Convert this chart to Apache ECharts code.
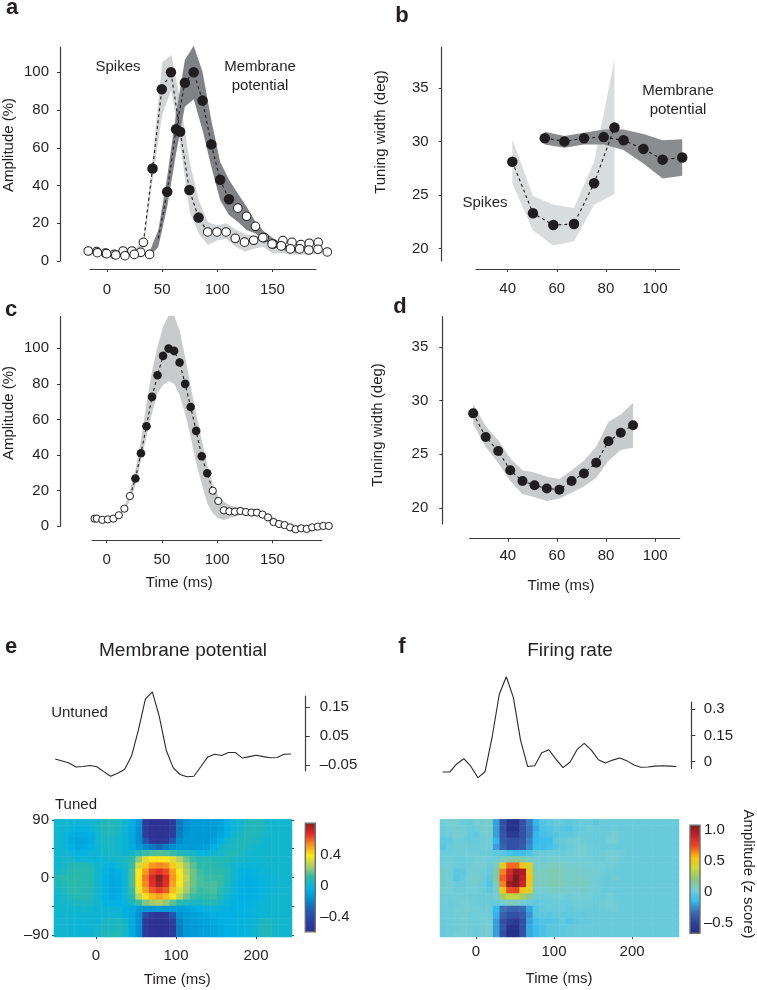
<!DOCTYPE html>
<html>
<head>
<meta charset="utf-8">
<style>html,body{margin:0;padding:0;background:#fff}#c{width:757px;height:990px}</style>
<script src="https://cdn.jsdelivr.net/npm/echarts@6/dist/echarts.min.js"></script>
</head>
<body>
<div id="c"></div>
<script>
// ---- panel a
const aSpikeT=[-17,-8.7,-0.3,8,16.3,24.7,33,41.3,49.7,58,66.3,74.7,83,91.3,99.7,108,116.3,124.7,133,141.3,149.7,158,166.3,174.7,183,191.3,199.7];
const aSpikeV=[5.3,4.4,3.9,3.2,2.8,3.5,9.9,49,91,100,68.5,37.6,23,15.4,15.4,15.4,12,10,11,12.4,9,8,6.4,6.4,5.8,6.2,4.8];
const aVmT=[-9.4,-1.4,6.6,14.6,22.6,30.6,38.6,46.6,54.6,62.6,70.6,78.6,86.6,94.6,102.6,110.6,118.6,126.6,134.6,142.6,150.6,159.5,167.7,175.8,183.4,191.5];
const aVmV=[5,4.2,3.5,5.3,5.3,4.6,3.5,12,36.7,69.8,94.5,100,85,61.8,43,32.7,28,23.7,18.4,12.4,9,10.8,9.9,8.7,9.4,9.9];
const aSpikeBandT=[25,33.3,41.6,50,58.3,66.6,75,83.3,91.6,100,108.3,116.6,125,133.3,141.6,150,158.3,166.6,175,183.3,191.6];
const aSpikeBandHi=[5.8,12,55,105.3,109.2,85,52,32,20.5,19,20,16.5,14.5,13,14,11,9,7.5,7.5,7,7];
const aSpikeBandLo=[3,7,44,77.4,90.6,61,26,14.5,8.5,11,11.7,7.5,5,6.5,7.5,4,4.3,3.3,3.3,3.5,4];
const aVmBandT=[38.6,46.6,54.6,62.6,70.6,78.6,86.6,94.6,102.6,110.6,118.6,126.6,134.6,142.6,150.6,158.6,166.6,174.6];
const aVmBandHi=[5,16.4,44.7,78,106.5,114,100.3,74.6,52.6,43,35.8,28.8,20.8,15.5,12,9.4,7.6,6.7];
const aVmBandLo=[2.3,7.6,28.8,57,81.8,85.7,69.4,50,32.3,24.4,20.8,16.4,14.6,11,7.6,5.8,5,4];
// ---- panel b
const bSpikeT=[41.9,50.3,58.6,67,75.2,83.5];
const bSpikeV=[28.1,23.3,22.2,22.3,26.1,31.3];
const bSpikeHi=[30.2,24.9,24.1,23.8,28.1,37.6];
const bSpikeLo=[26.1,21.7,20.3,20.7,24.1,25.1];
const bVmT=[55.1,63.1,71.1,79.1,87.2,95.3,103.1,111.1];
const bVmV=[30.3,30,30.3,30.4,30.1,29.3,28.3,28.5];
const bVmHi=[30.9,30.5,30.8,31.1,31.1,30.7,30.1,30.2];
const bVmLo=[29.7,29.4,29.7,29.7,29.2,27.95,26.55,26.8];
// ---- panel c
const cT=[-11,-9,-4,1,6,11,16,21,26,31,36,41,46,51,56,61,66,71,76,81,86,91,96,101,106,111,116,121,126,131,136,141,146,151,156,161,166,171,176,181,186,191,196,201];
const cV=[4.3,4.3,3.6,3.9,4.3,6.2,9.9,17,26.8,41,56.2,72.7,84.8,95.7,99.8,98.5,92,80,67,53.6,39.3,29.8,20,14.2,9,8.4,8.2,8.6,8,7.7,7.7,6.6,5,2.4,1.3,0.7,-0.6,-1.7,-1.1,-1.5,-0.6,-0.2,0.2,0.2];
const cBandT=[16,21,26,31,36,41,46,51,56,61,66,71,76,81,86,91,96,101,106,111,116,121,126,136,146,156,166,176,186,196];
const cBandHi=[11,20,31.6,48.5,69,87,101,112,118.3,118.3,110,95,78.5,63.5,48.5,34.5,24,17,13.9,12,11,10.8,10,9.5,7,3,1,0.6,0.8,1.2];
const cBandLo=[9,14,23,37,50,63.5,74.7,79.4,81.6,80,73.8,63.5,50.4,35.4,24,13,7.3,4.5,3.6,4.5,5.4,6.4,6.3,6,3.3,-0.4,-2.2,-2.8,-2,-0.8];
// ---- panel d
const dT=[25.9,31,36.1,41,46,50.9,55.9,61,66,71,76,81,86,91];
const dV=[28.8,26.6,25.3,23.5,22.5,22.1,21.8,21.7,22.5,23.2,24.2,26.2,27,27.7];
const dHi=[29.7,27.6,26.3,24.6,23.5,23.3,22.9,22.7,23.5,24.4,25.7,28,28.7,29.8];
const dLo=[27.8,25.7,24.2,22.5,21.3,21,20.65,20.87,21.4,22,22.8,24.4,25.4,25.6];
// ---- panel e
const eLineT=[-51,-42.3,-33.7,-25,-16.3,-7.6,1,9.7,18.4,27,35.7,44.4,53,61.7,70.4,79,87.7,96.4,105,113.7,122.4,131,139.7,148.4,157,165.7,174.4,183,191.7,200.4,209,217.7,226.4,235,243.7];
const eLineV=[-0.029,-0.036,-0.043,-0.057,-0.055,-0.052,-0.056,-0.073,-0.089,-0.079,-0.066,-0.019,0.071,0.178,0.203,0.119,0.002,-0.059,-0.083,-0.091,-0.089,-0.056,-0.022,-0.013,-0.017,-0.007,-0.007,-0.026,-0.021,-0.016,-0.021,-0.025,-0.024,-0.013,-0.012];
const eCells=[ // hundredths of z score, top row first
[2,2,1,0,0,1,3,7,8,6,1,-5,-14,-48,-58,-58,-58,-48,-24,-16,-12,-12,-12,-12,-10,-5,0,2,6,7,7,3,2,2,2],
[2,1,0,-2,-2,0,3,7,8,5,1,-6,-15,-50,-58,-58,-58,-50,-24,-16,-13,-13,-13,-12,-10,-5,0,3,7,8,7,3,2,2,2],
[2,0,-4,-6,-6,-4,2,6,7,3,0,-7,-16,-46,-58,-60,-58,-46,-22,-15,-13,-14,-14,-12,-8,-3,2,5,7,7,5,3,2,2,2],
[2,0,-6,-8,-8,-5,2,5,5,2,0,-7,-16,-36,-52,-55,-52,-34,-18,-14,-13,-14,-14,-10,-4,2,5,7,7,5,3,2,2,2,2],
[2,1,-4,-7,-6,-3,1,4,5,2,0,-6,-12,-18,-24,-28,-22,-16,-12,-12,-12,-12,-10,-5,2,5,6,7,5,3,2,2,2,2,2],
[2,2,0,-2,-2,0,1,3,4,3,1,3,8,12,14,15,14,12,8,6,3,-2,-2,1,3,6,8,6,3,2,2,2,2,2,2],
[2,3,3,1,0,0,0,1,2,4,5,10,22,34,38,40,38,34,26,18,12,9,9,8,8,8,5,3,2,2,2,2,2,2,2],
[2,4,7,8,8,6,2,0,-3,0,3,12,32,44,52,54,52,44,34,24,16,11,10,10,9,6,2,0,0,0,1,2,2,2,2],
[3,6,9,10,10,8,2,-2,-6,-4,1,14,38,52,63,66,62,50,38,26,18,13,11,11,11,8,2,-2,-3,-2,0,1,2,2,2],
[8,10,10,11,10,8,2,-3,-7,-5,1,14,40,56,68,80,68,52,40,28,18,14,12,12,12,8,2,-3,-4,-3,-1,0,1,2,2],
[6,8,10,10,10,8,2,-4,-7,-6,0,14,40,54,66,76,66,50,38,26,18,14,13,14,12,6,1,-4,-5,-4,-2,0,1,2,2],
[3,6,9,10,9,7,2,-4,-7,-6,0,12,36,50,60,64,60,46,34,24,16,12,13,14,10,4,0,-4,-5,-4,-2,0,1,2,2],
[2,4,7,9,9,7,2,-3,-6,-5,0,10,28,40,46,50,46,38,28,18,12,10,11,12,8,2,-1,-4,-4,-3,-1,1,2,2,2],
[2,3,4,6,6,5,2,-1,-3,-3,-1,5,12,20,24,26,22,16,10,7,5,5,7,8,4,0,-2,-3,-3,-2,0,1,2,2,2],
[2,2,2,2,3,2,1,0,0,0,-3,-6,-12,-14,-14,-12,-14,-12,-10,-9,-6,-3,-1,0,-1,-2,-3,-3,-2,-1,0,1,2,2,2],
[2,2,1,1,1,1,1,1,2,1,-2,-7,-16,-40,-52,-54,-52,-36,-16,-12,-10,-9,-7,-5,-4,-3,-3,-2,-2,-1,0,1,2,2,2],
[2,2,1,0,0,1,1,4,5,6,3,-6,-16,-48,-58,-58,-58,-46,-20,-13,-11,-10,-9,-7,-5,-4,-3,-2,-1,0,5,6,3,2,2],
[2,2,1,0,0,1,3,5,4,7,4,-6,-16,-50,-58,-60,-58,-50,-22,-14,-12,-11,-10,-8,-6,-4,-3,-2,-1,1,6,7,3,2,2],
[2,2,1,1,1,1,3,7,6,8,3,-6,-16,-50,-58,-60,-58,-50,-22,-14,-12,-11,-10,-8,-6,-4,-3,-2,-1,1,6,7,3,2,2]
];
// ---- panel f
const fLineT=[-42.7,-33.6,-24.6,-15.5,-6.4,2.6,11.7,20.8,29.9,38.9,48,57.1,66.1,75.2,84.3,93.4,102.4,111.5,120.6,129.6,138.7,147.8,156.8,165.9,175,184.1,193.1,202.2,211.3,220.3,229.4,238.5,247.5,256.6];
const fLineV=[-0.059,-0.059,-0.013,0.017,-0.027,-0.091,-0.057,0.142,0.384,0.484,0.365,0.123,-0.027,-0.023,0.051,0.068,0.015,-0.034,-0.002,0.07,0.104,0.066,0.011,-0.008,0.009,0.021,0.006,-0.019,-0.032,-0.03,-0.025,-0.023,-0.025,-0.027];
const fCells=[
[2,4,4,1,0,3,5,5,-20,-42,-60,-62,-42,-28,-15,-6,-2,-1,-1,-3,-1,0,0,-3,0,0,0,0,0,0,0,0,0,0,0,0],
[1,3,5,3,0,1,5,6,-20,-42,-62,-62,-42,-30,-18,-8,-6,-2,-4,-6,-2,0,2,0,0,0,1,0,0,0,0,0,0,0,0,0],
[0,2,4,3,0,-2,3,5,-20,-40,-55,-55,-42,-30,-15,-10,-8,-4,-2,-2,0,1,1,0,1,2,4,1,0,0,0,0,0,0,0,0],
[-3,-1,2,1,0,0,2,3,-15,-38,-42,-42,-40,-26,-14,-12,-12,-2,0,2,3,2,1,0,0,3,4,1,0,0,0,0,0,0,0,0],
[-4,0,2,2,1,1,2,2,-20,-35,-42,-42,-38,-24,-12,-12,-10,-5,-1,1,3,4,2,1,0,0,0,0,0,0,0,0,0,0,0,0],
[0,1,2,2,2,2,1,0,-2,-5,-10,-12,-12,-6,-1,0,1,1,0,2,4,4,2,1,2,3,3,2,0,0,0,0,0,0,0,0],
[2,2,1,1,2,3,3,2,2,8,12,14,12,6,3,2,4,4,3,3,3,3,3,2,2,3,4,1,0,0,0,0,0,0,0,0],
[3,3,1,0,2,4,4,1,8,45,68,68,50,45,5,5,7,8,7,5,5,4,4,3,3,2,1,0,0,0,0,0,0,0,0,0],
[5,3,-3,-2,3,5,2,-1,12,65,85,100,95,50,8,7,10,10,8,6,6,5,5,4,2,1,0,0,0,0,0,0,0,0,0,0],
[6,3,-4,-1,4,6,2,-3,14,70,90,108,92,55,10,8,10,10,8,6,7,7,5,3,1,0,2,0,0,0,0,0,0,0,0,0],
[5,3,1,1,3,4,0,-7,10,65,100,105,88,50,8,7,10,10,9,6,7,8,5,3,1,0,0,0,0,0,0,0,0,0,0,0],
[4,3,2,2,3,3,1,-2,6,50,72,75,52,45,5,4,6,6,5,4,4,5,4,2,0,0,0,0,0,0,0,0,0,0,0,0],
[2,2,2,2,2,2,1,1,3,28,35,35,28,15,2,2,2,3,3,2,3,4,3,1,1,3,1,0,0,0,0,0,0,0,0,0],
[2,1,2,3,3,2,1,0,0,3,8,8,3,0,-2,0,1,1,0,0,2,2,2,1,2,3,2,0,0,0,0,0,0,0,0,0],
[1,1,3,4,4,3,2,2,-14,-30,-34,-34,-32,-18,-5,-1,0,0,0,-1,1,1,1,0,1,2,2,0,0,0,0,0,0,0,0,0],
[1,1,3,4,2,2,3,2,-16,-36,-42,-42,-38,-22,-5,-3,-4,-2,-2,-2,-1,-1,0,0,0,0,0,0,0,0,0,0,0,0,0,0],
[0,1,2,4,2,1,4,3,-20,-42,-50,-55,-42,-20,-10,-6,-6,-4,-2,-5,-2,-1,-1,0,0,0,0,0,0,0,0,0,0,0,0,0],
[0,1,2,3,2,1,5,4,-20,-40,-62,-62,-42,-18,-12,-8,-4,-3,-2,-1,0,0,0,0,0,0,0,0,0,0,0,0,0,0,0,0],
[0,1,3,3,2,1,5,4,-20,-42,-64,-64,-42,-18,-12,-8,-4,-3,-2,-1,0,0,0,0,0,0,0,0,0,0,0,0,0,0,0,0]
];
const eColors=['#2e3192','#2d3f9d','#1f5fb0','#008ed0','#02b2e4','#2cb9aa','#a9cc6c','#fbe91a','#f59120','#e2282b','#7d2520'];
const fColors=['#252e88','#2e4199','#3a6cb5','#35bcee','#74cdd5','#8fc67c','#c8d838','#fdc010','#f04a24','#c5202a','#7c1d1d'];

const INK='#231f20', AXIS='#3c3a3a', FONT='"Liberation Sans", Arial, sans-serif', LBL=15;
const opt={animation:false,backgroundColor:'#fff',textStyle:{fontFamily:FONT},grid:[],xAxis:[],yAxis:[],series:[],visualMap:[],graphic:[]};
const txt=(s,x,y,o={})=>opt.graphic.push({type:'text',x,y,rotation:o.rot||0,z:50,style:{text:s,fill:INK,font:(o.bold?'bold ':'')+(o.size||LBL)+'px '+FONT,align:o.align||'center',verticalAlign:'middle'}});
const axLine=(show=true)=>({show,onZero:false,lineStyle:{color:AXIS,width:1.2}});
const tick=(vals,len=3)=>({show:true,length:len,customValues:vals,lineStyle:{color:AXIS,width:1}});
const lab=(vals,labels,margin,extra={})=>({show:true,customValues:vals,margin,color:INK,fontSize:LBL,fontFamily:FONT,hideOverlap:false,
  formatter:v=>{const i=vals.findIndex(t=>Math.abs(t-v)<1e-9);return labels?labels[i]:String(v);},...extra});
function cart(g,x,y){ // x,y axis specs
  const gi=opt.grid.length; opt.grid.push({containLabel:false,...g});
  const xi=opt.xAxis.length, yi=opt.yAxis.length;
  opt.xAxis.push({gridIndex:gi,type:'value',splitLine:{show:false},...x});
  opt.yAxis.push({gridIndex:gi,type:'value',splitLine:{show:false},...y});
  return {gi,xi,yi};
}
function band(c,T,Lo,Hi,color,z=1){
  opt.series.push({type:'custom',xAxisIndex:c.xi,yAxisIndex:c.yi,z,silent:true,clip:false,
    data:T.map((t,i)=>[t,Lo[i],Hi[i]]),encode:{x:0,y:[1,2]},
    renderItem(p,api){
      if(p.dataIndex!==0) return null;
      const pts=[];
      T.forEach((t,i)=>pts.push(api.coord([t,Hi[i]])));
      for(let i=T.length-1;i>=0;i--) pts.push(api.coord([T[i],Lo[i]]));
      return {type:'polygon',shape:{points:pts},style:{fill:color}};
    }});
}
const zip=(T,V,a=0,b=T.length-1)=>T.slice(a,b+1).map((t,i)=>[t,V[i+a]]);
function dash(c,d,z=3){opt.series.push({type:'line',xAxisIndex:c.xi,yAxisIndex:c.yi,data:d,symbol:'none',clip:false,z,silent:true,lineStyle:{color:'#1f1d1e',width:1.1,type:[3,3]}});}
function dots(c,d,size,open,z=5){opt.series.push({type:'scatter',xAxisIndex:c.xi,yAxisIndex:c.yi,data:d,symbolSize:size,clip:false,z,silent:true,
  itemStyle:open?{color:'#fff',borderColor:'#1f1d1e',borderWidth:1,opacity:1}:{color:'#1f1d1e',borderWidth:0,opacity:1}});}
function curve(c,T,V){opt.series.push({type:'line',xAxisIndex:c.xi,yAxisIndex:c.yi,data:zip(T,V),symbol:'none',clip:false,silent:true,lineStyle:{color:'#2a2829',width:1.1}});}

// a
const ca=cart({left:90,top:47,width:226,height:214},
 {min:-15.4,max:189.5,offset:8,axisLine:axLine(),axisTick:tick([0,50,100,150]),axisLabel:lab([0,50,100,150],null,13)},
 {min:0,max:113.4,offset:30,axisLine:axLine(),axisTick:tick([0,20,40,60,80,100]),axisLabel:lab([0,20,40,60,80,100],null,11)});
band(ca,aSpikeBandT,aSpikeBandLo,aSpikeBandHi,'#d1d3d4',1);
band(ca,aVmBandT,aVmBandLo,aVmBandHi,'#808285',2);
dash(ca,zip(aSpikeT,aSpikeV,6,13));dash(ca,zip(aVmT,aVmV,7,16));
dots(ca,[...zip(aVmT,aVmV,0,6),...zip(aVmT,aVmV,16,25)],8.6,true,4);
dots(ca,zip(aVmT,aVmV,8,15),10.5,false,5);
dots(ca,[...zip(aSpikeT,aSpikeV,0,6),...zip(aSpikeT,aSpikeV,13,26)],8.6,true,6);
dots(ca,zip(aSpikeT,aSpikeV,7,12),10.5,false,7);
// b
const tw=[20,25,30,35];
const cb=cart({left:476,top:47,width:203.3,height:214},
 {min:27.1,max:109.9,offset:8,axisLine:axLine(),axisTick:tick([40,60,80,100]),axisLabel:lab([40,60,80,100],null,12)},
 {min:18.85,max:38.8,offset:34.3,axisLine:axLine(),axisTick:tick(tw),axisLabel:lab(tw,null,13)});
band(cb,bSpikeT,bSpikeLo,bSpikeHi,'#dadbdc',1);
band(cb,bVmT,bVmLo,bVmHi,'#8a8c8e',2);
dash(cb,zip(bSpikeT,bSpikeV));dash(cb,zip(bVmT,bVmV));
dots(cb,zip(bVmT,bVmV),10.5,false);dots(cb,zip(bSpikeT,bSpikeV),10.5,false);
// c
const cc=cart({left:92,top:316.7,width:229.7,height:209.6},
 {min:-13.3,max:194.6,offset:14,axisLine:axLine(),axisTick:tick([0,50,100,150]),axisLabel:lab([0,50,100,150],null,12)},
 {min:0,max:117.7,offset:32,axisLine:axLine(),axisTick:tick([0,20,40,60,80,100]),axisLabel:lab([0,20,40,60,80,100],null,11)});
band(cc,cBandT,cBandLo,cBandHi,'#c9cacb',1);
dash(cc,zip(cT,cV,7,23));
dots(cc,[...zip(cT,cV,0,7),...zip(cT,cV,22,43)],7.2,true,4);
dots(cc,zip(cT,cV,8,21),8.6,false,5);
// d
const cd=cart({left:469.7,top:316.7,width:210,height:207.3},
 {min:24.5,max:110,offset:14.7,axisLine:axLine(),axisTick:tick([40,60,80,100]),axisLabel:lab([40,60,80,100],null,10)},
 {min:18.5,max:37.8,offset:27.4,axisLine:axLine(),axisTick:tick(tw),axisLabel:lab(tw,null,14)});
band(cd,dT,dLo,dHi,'#c9cacb',1);
dash(cd,zip(dT,dV));dots(cd,zip(dT,dV),10,false);
// e, f line strips
const hiddenX=(min,max)=>({min,max,show:false});
const le=cart({left:54,top:696,width:238,height:74.7},hiddenX(-52.5,245),
 {position:'right',min:-0.0698,max:0.189,offset:13.7,axisLine:axLine(),axisTick:tick([-0.05,0.05,0.15],4),axisLabel:lab([-0.05,0.05,0.15],['\u20130.05','0.05','0.15'],14)});
curve(le,eLineT,eLineV);
const lf=cart({left:440,top:702,width:239,height:66.3},hiddenX(-46,260),
 {position:'right',min:-0.0376,max:0.34,offset:12.3,axisLine:axLine(),axisTick:tick([0,0.15,0.3],4),axisLabel:lab([0,0.15,0.3],['0','0.15','0.3'],12.5)});
curve(lf,fLineT,fLineV);
// e, f heatmaps
function heat(g,cells,xr,yAxes,colors,vmin,vmax,xmargin){
  const gi=opt.grid.length; opt.grid.push(g);
  const cx=opt.xAxis.length; opt.xAxis.push({gridIndex:gi,type:'category',show:false,data:cells[0].map((_,i)=>i)});
  const cy=opt.yAxis.length; opt.yAxis.push({gridIndex:gi,type:'category',show:false,inverse:true,data:cells.map((_,i)=>i)});
  opt.xAxis.push({gridIndex:gi,type:'value',min:xr[0],max:xr[1],position:'bottom',splitLine:{show:false},axisLine:{show:false,onZero:false},axisTick:tick([0,100,200],2),axisLabel:lab([0,100,200],null,xmargin)});
  yAxes.forEach(a=>opt.yAxis.push({gridIndex:gi,type:'value',min:-93,max:91,splitLine:{show:false},...a}));
  const data=[];cells.forEach((r,j)=>r.forEach((v,i)=>data.push([i,j,v/100])));
  const si=opt.series.length;
  opt.series.push({type:'heatmap',xAxisIndex:cx,yAxisIndex:cy,data,silent:true,progressive:0,itemStyle:{borderWidth:0}});
  opt.visualMap.push({show:false,seriesIndex:si,dimension:2,min:vmin,max:vmax,calculable:false,inRange:{color:colors}});
}
const degTicks=[-90,-45,0,45,90];
heat({left:54,top:819.3,width:238,height:117.7},eCells,[-52.5,245],[
 {position:'left',axisLine:{show:false,onZero:false},axisTick:tick(degTicks,2),axisLabel:lab([-90,0,90],['\u201390','0','90'],5)},
 {position:'right',axisLine:{show:false,onZero:false},axisTick:tick(degTicks,2),axisLabel:{show:false}}
],eColors,-0.595,0.81,11);
heat({left:440,top:819.3,width:239,height:117.7},fCells,[-46,260],[
 {position:'left',show:false}
],fColors,-0.66,1.076,7);
// colour bars
function bar(g,colors,vmin,vmax,vals,labels,margin){
  cart({show:true,borderColor:'#6d6e70',borderWidth:1.4,backgroundColor:{type:'linear',x:0,y:1,x2:0,y2:0,colorStops:colors.map((c,i)=>({offset:i/(colors.length-1),color:c}))},...g},
   {min:0,max:1,show:false},
   {position:'right',min:vmin,max:vmax,axisLine:{show:false,onZero:false},axisTick:{show:false},axisLabel:lab(vals,labels,margin)});
}
bar({left:305.3,top:823.3,width:10,height:108.4},eColors,-0.595,0.81,[-0.4,0,0.4],['\u20130.4','0','0.4'],5);
bar({left:690,top:825.3,width:10,height:108},fColors,-0.66,1.076,[-0.5,0,0.5,1],['\u20130.5','0','0.5','1.0'],4);

// text
[['a',12,8],['b',402,16],['c',11,310],['d',400,307],['e',11,647],['f',402,647]].forEach(([s,x,y])=>txt(s,x,y,{bold:true,size:22}));
txt('Spikes',118,67);txt('Membrane',260,67);txt('potential',260,86);
txt('Membrane',678,91);txt('potential',678,110);txt('Spikes',485,203);
txt('Amplitude (%)',8.5,145,{rot:Math.PI/2});txt('Tuning width (deg)',381,132,{rot:Math.PI/2});
txt('Amplitude (%)',8.5,413,{rot:Math.PI/2});txt('Tuning width (deg)',378,425,{rot:Math.PI/2});
txt('Time (ms)',179.3,583);txt('Time (ms)',561,585.7);txt('Time (ms)',177.3,980);txt('Time (ms)',559,979.3);
txt('Membrane potential',183,650.5,{size:19});txt('Firing rate',570,650.5,{size:19});
txt('Untuned',79.5,712.7);txt('Tuned',76,805);
txt('Amplitude (z score)',747.7,874,{rot:-Math.PI/2});

echarts.init(document.getElementById('c'),null,{renderer:'canvas'}).setOption(opt);
</script>
</body>
</html>
